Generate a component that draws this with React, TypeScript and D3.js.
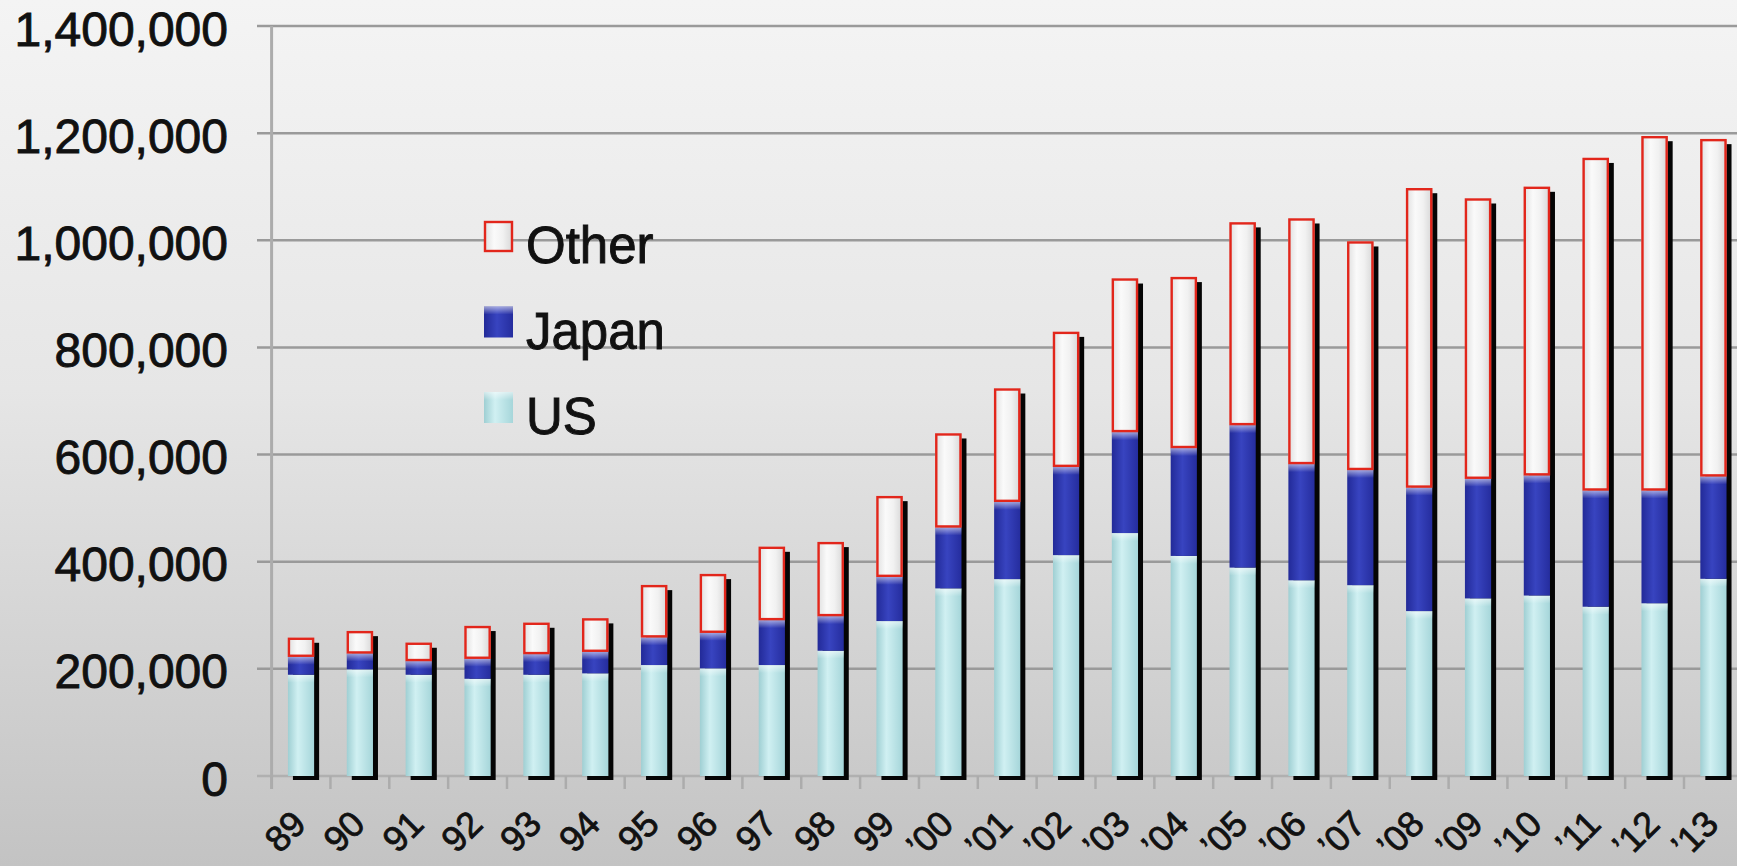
import React from 'react';
import * as d3 from 'd3';

// Annual volumes by region, stacked US / Japan / Other
const years = [
  '89', '90', '91', '92', '93', '94', '95', '96', '97', '98', '99',
  '\u201900', '\u201901', '\u201902', '\u201903', '\u201904', '\u201905', '\u201906',
  '\u201907', '\u201908', '\u201909', '\u201910', '\u201911', '\u201912', '\u201913',
];
const usValues = [
  189000, 199000, 189000, 181500, 189000, 191600, 207100, 200900, 207100, 233800, 289200,
  350200, 367500, 412300, 453500, 410800, 389000, 365300, 356200, 307800, 331500, 336900,
  316000, 322400, 368100,
];
const japanValues = [
  33600, 29800, 25600, 37400, 38600, 40300, 51700, 66500, 83900, 64700, 82600,
  113800, 144300, 164800, 188500, 201500, 266000, 217000, 215100, 230600, 223400, 224300,
  217000, 210600, 191200,
];
const otherValues = [
  35400, 41600, 34100, 61000, 58400, 62300, 97500, 109500, 136800, 138100, 150600,
  175400, 211500, 251900, 286600, 319000, 378400, 458400, 426500, 558800, 523100, 538600,
  620700, 661300, 629500,
];
const seriesKeys = ['US', 'Japan', 'Other'];
const legendOrder = ['Other', 'Japan', 'US'];
const yTickValues = [0, 200000, 400000, 600000, 800000, 1000000, 1200000, 1400000];

const W = 1737;
const H = 866;
const FONT = '"Liberation Sans", Arial, Helvetica, sans-serif';

const fills: Record<string, string> = {
  US: 'url(#gUS)',
  Japan: 'url(#gJapan)',
  Other: 'url(#gOther)',
};

export default function App() {
  const left = 271.6;
  const step = 58.85;
  const x = d3
    .scaleBand<string>()
    .domain(years)
    .range([left, left + step * years.length])
    .paddingInner(0.555)
    .paddingOuter(0.2775);
  const y = d3.scaleLinear().domain([0, 1400000]).range([776, 26]);
  const fmt = d3.format(',');

  const table = years.map((yr, i) => ({
    year: yr,
    US: usValues[i],
    Japan: japanValues[i],
    Other: otherValues[i],
  }));
  const stacked = d3.stack<any>().keys(seriesKeys)(table);
  const bw = x.bandwidth();
  const zeroY = y(0);
  const boundaries = d3.range(years.length + 1).map((k) => left + k * x.step());

  return (
    <svg
      width={W}
      height={H}
      viewBox={`0 0 ${W} ${H}`}
      style={{ position: 'absolute', left: 0, top: 0, display: 'block' }}
    >
      <defs>
        <linearGradient id="bg" x1="0" y1="0" x2="0" y2="1">
          <stop offset="0%" stopColor="#f4f4f4" />
          <stop offset="45%" stopColor="#e6e6e6" />
          <stop offset="100%" stopColor="#c3c3c3" />
        </linearGradient>
        <linearGradient id="gUS" x1="0" y1="0" x2="1" y2="0">
          <stop offset="0%" stopColor="#9fcfd3" />
          <stop offset="38%" stopColor="#d0f0f2" />
          <stop offset="100%" stopColor="#a6d6da" />
        </linearGradient>
        <linearGradient id="gJapan" x1="0" y1="0" x2="1" y2="0">
          <stop offset="0%" stopColor="#222a98" />
          <stop offset="45%" stopColor="#3844c0" />
          <stop offset="100%" stopColor="#252d9e" />
        </linearGradient>
        <linearGradient id="gOther" x1="0" y1="0" x2="1" y2="0">
          <stop offset="0%" stopColor="#dedede" />
          <stop offset="35%" stopColor="#fafafa" />
          <stop offset="65%" stopColor="#f1f1f1" />
          <stop offset="100%" stopColor="#d6d6d6" />
        </linearGradient>
        <linearGradient id="gCap" x1="0" y1="0" x2="0" y2="1">
          <stop offset="0%" stopColor="#ffffff" stopOpacity="0.55" />
          <stop offset="100%" stopColor="#ffffff" stopOpacity="0" />
        </linearGradient>
      </defs>

      <rect x={0} y={0} width={W} height={H} fill="url(#bg)" />

      {/* horizontal gridlines with left tick stubs */}
      {yTickValues.map((v) => (
        <line
          key={`g${v}`}
          x1={257}
          x2={W}
          y1={y(v)}
          y2={y(v)}
          stroke={v === 0 ? '#b0b0b0' : '#9a9a9a'}
          strokeWidth={2.5}
        />
      ))}

      {/* value axis */}
      <line x1={left} x2={left} y1={y(1400000)} y2={789} stroke="#acacac" strokeWidth={3} />

      {/* category ticks */}
      {boundaries.map((bx, k) => (
        <line key={`t${k}`} x1={bx} x2={bx} y1={zeroY} y2={789} stroke="#acacac" strokeWidth={2.5} />
      ))}

      {/* y tick labels */}
      {yTickValues.map((v) => (
        <text
          key={`l${v}`}
          x={228}
          y={y(v) + 3}
          textAnchor="end"
          dominantBaseline="central"
          fontFamily={FONT}
          fontSize={48}
          fill="#111"
          stroke="#111"
          strokeWidth={0.9}
        >
          {fmt(v)}
        </text>
      ))}

      {/* bars */}
      {years.map((yr, i) => {
        const bx = x(yr) as number;
        const top = y(stacked[stacked.length - 1][i][1]);
        return (
          <g key={`b${yr}`}>
            <rect x={bx + 5} y={top + 5} width={bw} height={zeroY + 4 - (top + 5)} fill="#050505" />
            {stacked.map((s) => {
              const y0 = y(s[i][0]);
              const y1 = y(s[i][1]);
              const key = s.key;
              return (
                <g key={key}>
                  <rect x={bx} y={y1} width={bw} height={y0 - y1} fill={fills[key]} />
                  {key !== 'Other' && (
                    <rect x={bx} y={y1} width={bw} height={Math.min(8, y0 - y1)} fill="url(#gCap)" />
                  )}
                  {key === 'Other' && (
                    <rect
                      x={bx + 1}
                      y={y1 + 1}
                      width={bw - 2}
                      height={y0 - y1 - 2}
                      fill="none"
                      stroke="#e2261b"
                      strokeWidth={2.4}
                    />
                  )}
                </g>
              );
            })}
          </g>
        );
      })}

      {/* category labels */}
      {years.map((yr) => {
        const cx = (x(yr) as number) + bw / 2 + 7;
        const cy = 826;
        return (
          <text
            key={`x${yr}`}
            x={cx}
            y={cy}
            transform={`rotate(-45 ${cx} ${cy})`}
            textAnchor="end"
            fontFamily={FONT}
            fontSize={36}
            fill="#111"
            stroke="#111"
            strokeWidth={0.8}
          >
            {yr}
          </text>
        );
      })}

      {/* legend */}
      {legendOrder.map((k, j) => {
        const ly = 221 + j * 85.5;
        return (
          <g key={`lg${k}`}>
            <rect x={484} y={ly} width={29} height={31} fill={fills[k]} />
            {k !== 'Other' && <rect x={484} y={ly} width={29} height={8} fill="url(#gCap)" />}
            {k === 'Other' && (
              <rect x={485} y={ly + 1} width={27} height={29} fill="none" stroke="#e2261b" strokeWidth={2.4} />
            )}
            <text
              x={526}
              y={ly + 42}
              fontFamily={FONT}
              fontSize={51}
              fill="#111"
              stroke="#111"
              strokeWidth={0.9}
            >
              {k}
            </text>
          </g>
        );
      })}
    </svg>
  );
}
